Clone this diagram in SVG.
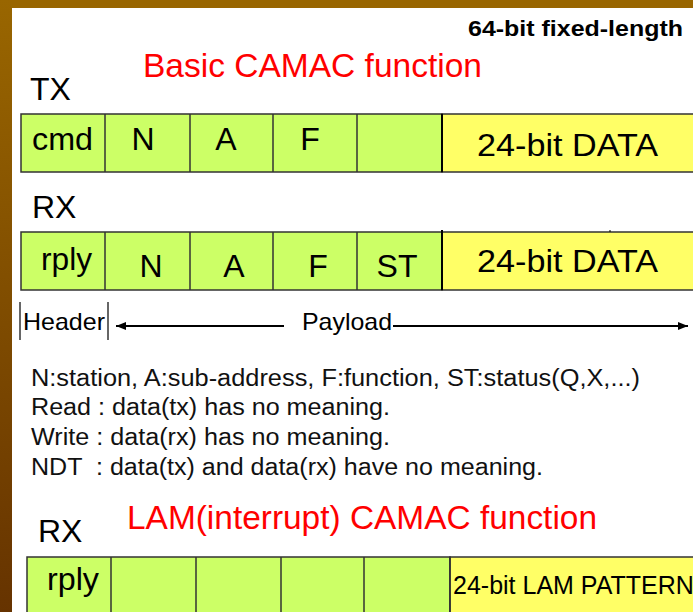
<svg xmlns="http://www.w3.org/2000/svg" width="693" height="612" viewBox="0 0 693 612">
<defs>
<linearGradient id="lb" x1="0" y1="0" x2="0" y2="1">
<stop offset="0" stop-color="#996600"/>
<stop offset="1" stop-color="#663300"/>
</linearGradient>
<marker id="ah" viewBox="0 0 10 8" refX="10" refY="4" markerWidth="10" markerHeight="8" markerUnits="userSpaceOnUse" orient="auto-start-reverse">
<path d="M0,0 L10,4 L0,8 z" fill="#000"/>
</marker>
<style>
.t{font-family:"Liberation Sans",Arial,sans-serif;fill:#000}
.red{font-family:"Liberation Sans",Arial,sans-serif;fill:#FF0000;font-size:33px}
.g{fill:#CCFF66;stroke:#333;stroke-width:1.5}
.y{fill:#FFFF66;stroke:#333;stroke-width:1.5}
.dv{stroke:#333;stroke-width:1.5}
.dk{stroke:#000;stroke-width:2}
.c32{font-size:32px}
.c{text-anchor:middle}
.note{font-family:"Liberation Sans",Arial,sans-serif;fill:#111;font-size:23px}
</style>
</defs>
<rect x="0" y="0" width="693" height="612" fill="#fff"/>
<rect x="0" y="0" width="693" height="8" fill="#996600"/>
<rect x="0" y="0" width="12" height="612" fill="url(#lb)"/>

<g id="title">
<text class="t" x="468" y="36" font-size="22" font-weight="bold" textLength="215" lengthAdjust="spacingAndGlyphs">64-bit fixed-length</text>
<text class="red" x="143" y="77" textLength="339" lengthAdjust="spacingAndGlyphs">Basic CAMAC function</text>
<text class="t c32" x="30" y="100">TX</text>
</g>

<g id="tx-frame">
<rect class="g" x="21" y="114" width="421" height="58"/>
<rect class="y" x="442" y="114" width="260" height="58"/>
<line class="dv" x1="105" y1="114" x2="105" y2="172"/>
<line class="dv" x1="190" y1="114" x2="190" y2="172"/>
<line class="dv" x1="273" y1="114" x2="273" y2="172"/>
<line class="dv" x1="357" y1="114" x2="357" y2="172"/>
<line class="dk" x1="442" y1="114" x2="442" y2="172"/>
<text class="t c32" x="32" y="150" textLength="61" lengthAdjust="spacingAndGlyphs">cmd</text>
<text class="t c32 c" x="143" y="150">N</text>
<text class="t c32 c" x="226" y="150">A</text>
<text class="t c32 c" x="310" y="150">F</text>
<text class="t c32" x="477" y="156" textLength="181" lengthAdjust="spacingAndGlyphs">24-bit DATA</text>
</g>

<g id="rx-frame">
<text class="t c32" x="32" y="218">RX</text>
<rect class="g" x="21" y="232" width="421" height="58"/>
<rect class="y" x="442" y="232" width="260" height="58"/>
<line class="dv" x1="105" y1="232" x2="105" y2="290"/>
<line class="dv" x1="190" y1="232" x2="190" y2="290"/>
<line class="dv" x1="273" y1="232" x2="273" y2="290"/>
<line class="dv" x1="357" y1="232" x2="357" y2="290"/>
<line class="dk" x1="442" y1="230" x2="442" y2="290"/>
<line stroke="#000" stroke-width="1" x1="610" y1="230" x2="610" y2="232"/>
<text class="t c32" x="41" y="270" textLength="51" lengthAdjust="spacingAndGlyphs">rply</text>
<text class="t c32 c" x="151" y="277">N</text>
<text class="t c32 c" x="234" y="277">A</text>
<text class="t c32 c" x="318" y="277">F</text>
<text class="t c32 c" x="397" y="277">ST</text>
<text class="t c32" x="477" y="272" textLength="181" lengthAdjust="spacingAndGlyphs">24-bit DATA</text>
</g>

<g id="connectors">
<line stroke="#333" stroke-width="1.5" x1="20" y1="302" x2="20" y2="340"/>
<line stroke="#333" stroke-width="1.5" x1="108" y1="302" x2="108" y2="340"/>
<line stroke="#000" stroke-width="2" x1="284" y1="326" x2="116" y2="326" marker-end="url(#ah)"/>
<line stroke="#000" stroke-width="2" x1="393" y1="326" x2="688" y2="326" marker-end="url(#ah)"/>
</g>

<g id="labels">
<text class="t" x="23" y="330" font-size="24" textLength="82" lengthAdjust="spacingAndGlyphs">Header</text>
<text class="t" x="302" y="330" font-size="24" textLength="90" lengthAdjust="spacingAndGlyphs">Payload</text>
</g>

<g id="notes">
<text class="note" x="31" y="386" textLength="609" lengthAdjust="spacingAndGlyphs">N:station, A:sub-address, F:function, ST:status(Q,X,...)</text>
<text class="note" x="31" y="415" textLength="359" lengthAdjust="spacingAndGlyphs">Read : data(tx) has no meaning.</text>
<text class="note" x="31" y="445" textLength="359" lengthAdjust="spacingAndGlyphs">Write : data(rx) has no meaning.</text>
<text class="note" x="31" y="475" textLength="512" lengthAdjust="spacingAndGlyphs" xml:space="preserve">NDT  : data(tx) and data(rx) have no meaning.</text>
</g>

<g id="lam-frame">
<text class="t c32" x="38" y="542">RX</text>
<text class="red" x="127" y="529" textLength="470" lengthAdjust="spacingAndGlyphs">LAM(interrupt) CAMAC function</text>
<rect class="g" x="27" y="557" width="423" height="70"/>
<rect class="y" x="450" y="557" width="260" height="70"/>
<line class="dv" x1="111" y1="557" x2="111" y2="612"/>
<line class="dv" x1="196" y1="557" x2="196" y2="612"/>
<line class="dv" x1="281" y1="557" x2="281" y2="612"/>
<line class="dv" x1="364" y1="557" x2="364" y2="612"/>
<line class="dv" x1="450" y1="557" x2="450" y2="612"/>
<text class="t c32" x="47" y="590" textLength="52" lengthAdjust="spacingAndGlyphs">rply</text>
<text class="t" x="453" y="594" font-size="25">24-bit LAM PATTERN</text>
</g>
</svg>
